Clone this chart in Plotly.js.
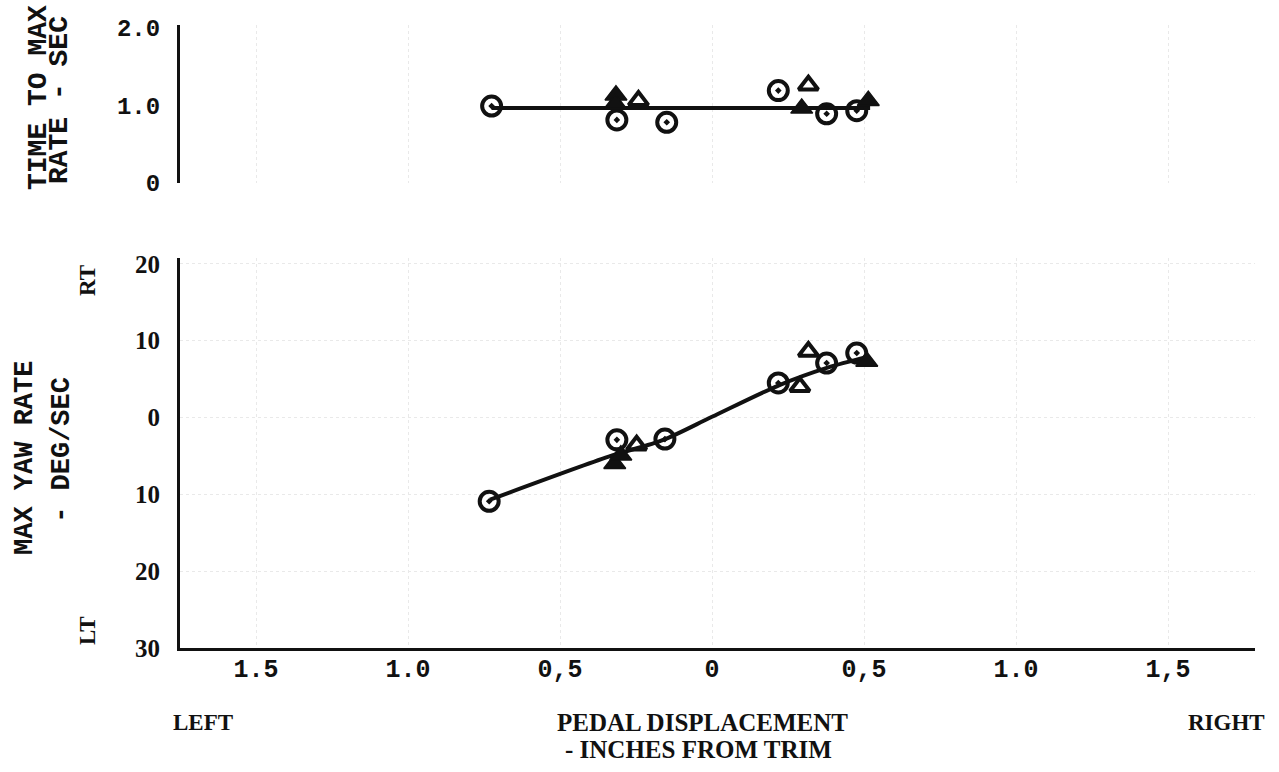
<!DOCTYPE html>
<html>
<head>
<meta charset="utf-8">
<script src="https://cdn.plot.ly/plotly-3.0.1.min.js"></script>
<style>html,body{margin:0;padding:0;background:#fff;}#chart{width:1279px;height:772px;}</style>
</head>
<body>
<div id="chart"></div>
<script>
// ---- data (pedal displacement: left negative, right positive) ----
// Time to max rate (sec)
var timeCircleX = [-0.725, -0.313, -0.149, 0.218, 0.377, 0.476];
var timeCircleY = [0.99, 0.81, 0.78, 1.19, 0.89, 0.93];
var timeOpenTriX = [-0.242, 0.317];
var timeOpenTriY = [1.06, 1.26];
var timeFillTriX = [-0.316, -0.318, 0.295, 0.514];
var timeFillTriY = [1.13, 1.02, 0.96, 1.06];
var timeFairX = [-0.725, 0.52];
var timeFairY = [0.965, 0.965];

// Max yaw rate (deg/sec): RT positive, LT negative
var yawCircleX = [-0.733, -0.313, -0.155, 0.218, 0.377, 0.476];
var yawCircleY = [-10.9, -2.9, -2.8, 4.5, 7.1, 8.4];
var yawOpenTriX = [-0.248, 0.289, 0.317];
var yawOpenTriY = [-3.6, 4.0, 8.6];
var yawFillTriX = [-0.32, -0.30, 0.509];
var yawFillTriY = [-6.0, -4.9, 7.3];
var yawFairX = [-0.73, -0.34, -0.16, 0.0, 0.22, 0.38, 0.51];
var yawFairY = [-10.7, -5.1, -2.9, 0.1, 4.2, 6.5, 7.9];

// tick labels
var xTickVals = [-1.5, -1.0, -0.5, 0, 0.5, 1.0, 1.5];
var xTickText = ["1.5", "1.0", "0,5", "0", "0,5", "1.0", "1,5"];
var yawTickVals = [20, 10, 0, -10, -20, -30];
var yawTickText = ["20", "10", "0", "10", "20", "30"];
var timeTickVals = [0, 1, 2];
var timeTickText = ["0", "1.0", "2.0"];

// ---- styles ----
var black = "#111";
var mono = "Liberation Mono";
var serif = "Liberation Serif";

function circles(x, y, ya) {
  return {x: x, y: y, yaxis: ya, type: "scatter", mode: "markers", showlegend: false, hoverinfo: "skip",
    marker: {symbol: "circle-open-dot", size: 19, color: black, line: {width: 4, color: black}}};
}
function openTri(x, y, ya) {
  return {x: x, y: y, yaxis: ya, type: "scatter", mode: "markers", showlegend: false, hoverinfo: "skip",
    marker: {symbol: "triangle-up-open", size: 17, color: black, line: {width: 4, color: black}}};
}
function fillTri(x, y, ya) {
  return {x: x, y: y, yaxis: ya, type: "scatter", mode: "markers", showlegend: false, hoverinfo: "skip",
    marker: {symbol: "triangle-up", size: 19, color: black, line: {width: 1.5, color: black}}};
}
function fair(x, y, ya) {
  return {x: x, y: y, yaxis: ya, type: "scatter", mode: "lines", showlegend: false, hoverinfo: "skip",
    line: {color: black, width: 4, shape: "spline", smoothing: 0.8}};
}

var traces = [
  fair(timeFairX, timeFairY, "y2"),
  circles(timeCircleX, timeCircleY, "y2"),
  openTri(timeOpenTriX, timeOpenTriY, "y2"),
  fillTri(timeFillTriX, timeFillTriY, "y2"),
  fair(yawFairX, yawFairY, "y"),
  circles(yawCircleX, yawCircleY, "y"),
  openTri(yawOpenTriX, yawOpenTriY, "y"),
  fillTri(yawFillTriX, yawFillTriY, "y")
];

function ann(text, x, y, opts) {
  var a = {text: text, x: x, y: y, xref: "paper", yref: "paper", showarrow: false,
    xanchor: "center", yanchor: "middle",
    font: {family: mono, size: 24, color: black, weight: "bold"}};
  for (var k in opts) a[k] = opts[k];
  return a;
}

var faint = "#e9e9e9";

var layout = {
  width: 1279, height: 772,
  margin: {l: 180, r: 24, t: 25, b: 124},
  paper_bgcolor: "#fff", plot_bgcolor: "#fff",
  showlegend: false,
  xaxis: {
    range: [-1.75, 1.786], anchor: "y",
    showline: true, linewidth: 3, linecolor: black,
    showgrid: true, gridcolor: faint, gridwidth: 1, griddash: "dot",
    zeroline: false, ticks: "",
    tickmode: "array", tickvals: xTickVals, ticktext: xTickText,
    ticklabelstandoff: -4,
    tickfont: {family: mono, size: 25, color: black, weight: "bold"}
  },
  yaxis: {
    domain: [0, 0.626], range: [-30, 20.77],
    showline: true, linewidth: 3, linecolor: black,
    showgrid: true, gridcolor: faint, gridwidth: 1, griddash: "dot",
    zeroline: false, ticks: "",
    tickmode: "array", tickvals: yawTickVals, ticktext: yawTickText,
    ticklabelstandoff: 12,
    tickfont: {family: serif, size: 25, color: black, weight: "bold"}
  },
  yaxis2: {
    domain: [0.746, 1], range: [-0.01, 2.04], anchor: "x",
    showline: true, linewidth: 3, linecolor: black,
    showgrid: false, zeroline: false, ticks: "",
    tickmode: "array", tickvals: timeTickVals, ticktext: timeTickText,
    ticklabelstandoff: 12,
    tickfont: {family: mono, size: 24, color: black, weight: "bold"}
  },
  annotations: [
    ann("TIME TO MAX", -0.1321, 0.8844, {textangle: -90, font: {family: mono, size: 28, color: black, weight: "bold"}}),
    ann("RATE - SEC", -0.1125, 0.8796, {textangle: -90, font: {family: mono, size: 28, color: black, weight: "bold"}}),
    ann("MAX YAW RATE", -0.1442, 0.305, {textangle: -90, font: {family: mono, size: 27, color: black, weight: "bold"}}),
    ann("- DEG/SEC", -0.1098, 0.318, {textangle: -90, font: {family: mono, size: 27, color: black, weight: "bold"}}),
    ann("RT", -0.0856, 0.5907, {textangle: -90, font: {family: serif, size: 23, color: black, weight: "bold"}}),
    ann("LT", -0.0856, 0.0289, {textangle: -90, font: {family: serif, size: 23, color: black, weight: "bold"}}),
    ann("LEFT", 0.0214, -0.1188, {font: {family: serif, size: 23, color: black, weight: "bold"}}),
    ann("PEDAL DISPLACEMENT", 0.4856, -0.1188, {font: {family: serif, size: 25, color: black, weight: "bold"}}),
    ann("- INCHES FROM TRIM", 0.4819, -0.1637, {font: {family: serif, size: 25, color: black, weight: "bold"}}),
    ann("RIGHT", 0.9735, -0.1188, {font: {family: serif, size: 23, color: black, weight: "bold"}})
  ]
};

Plotly.newPlot("chart", traces, layout, {staticPlot: true, displayModeBar: false});
</script>
</body>
</html>
